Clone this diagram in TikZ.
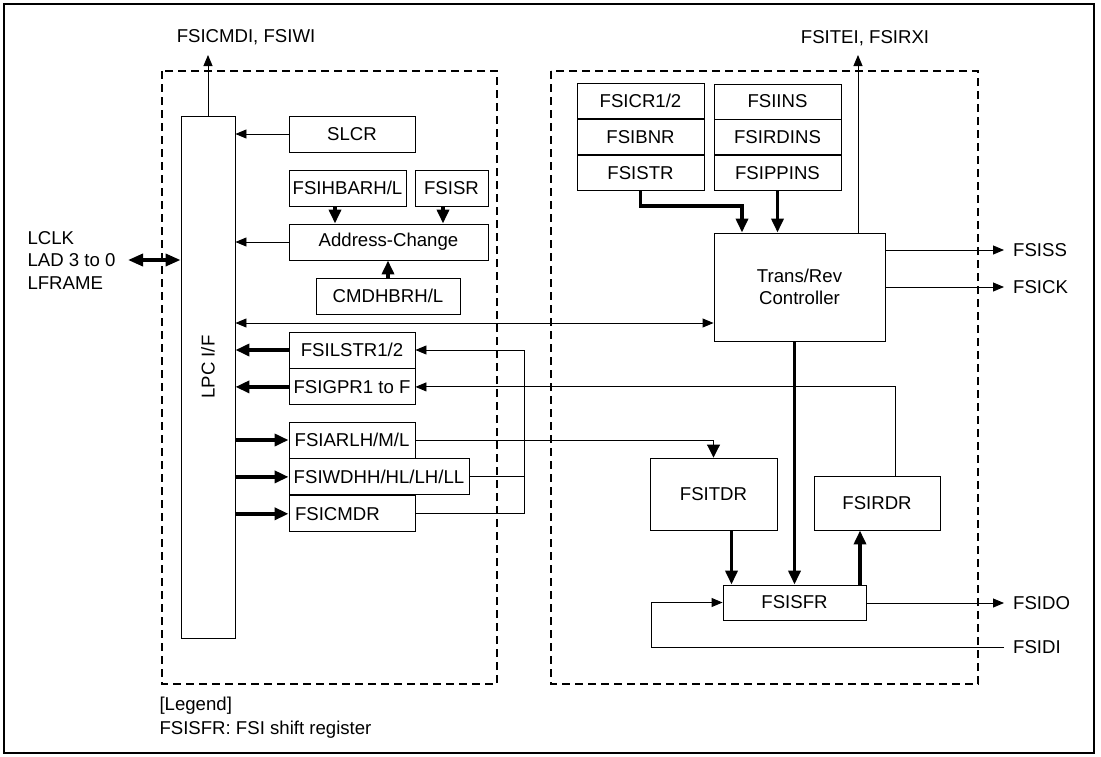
\documentclass[tikz,border=0pt]{standalone}
\usepackage{fontspec}
\setmainfont{Liberation Sans}
\usetikzlibrary{arrows.meta,positioning}

\begin{document}
\begin{tikzpicture}[
  x=1pt, y=-1pt,
  every node/.style={font=\fontsize{18.6}{22.5}\selectfont},
  reg/.style={draw, line width=0.9pt, minimum height=36pt, inner sep=0pt, align=center},
  regrow/.style={reg, minimum width=127pt, minimum height=35pt},
  sig/.style={inner xsep=9pt, inner ysep=0pt, anchor=west},
  wire/.style={line width=0.9pt},
  arr/.style={wire, -{Triangle[length=11pt, width=9pt]}},
  warr/.style={wire, -{Triangle[length=13pt, width=13pt]}},
  biarr/.style={wire, {Triangle[length=11pt, width=9pt]}-{Triangle[length=11pt, width=9pt]}},
  tarr/.style={line width=3.5pt, -{Triangle[length=14pt, width=12pt]}},
  tbiarr/.style={line width=3.5pt, {Triangle[length=15pt, width=12pt]}-{Triangle[length=15pt, width=12pt]}},
  zone/.style={draw, line width=2pt, dash pattern=on 8pt off 5pt},
  node distance=0pt
]
\useasboundingbox (0,0) rectangle (1101,756);
\draw[line width=2pt] (4,4) rectangle (1094,753);
\draw[zone] (162,71) rectangle (497,684);
\draw[zone] (551,71) rectangle (978,684);

\node[reg, minimum width=54pt, minimum height=522pt] (lpc) at (208,377) {};
\node[rotate=90] (lpctxt) at (208,367) {LPC I/F};
\node[reg, minimum width=126pt] (slcr) at (352,134) {SLCR};
\node[reg, minimum width=117pt] (hbar) at (347.5,188) {FSIHBARH/L};
\node[reg, minimum width=73pt] (isr) at (451.5,188) {FSISR};
\node[reg, minimum width=199pt] (addr) at (388.5,242) {Address-Change};
\node[reg, minimum width=144pt] (cmdh) at (388,296) {CMDHBRH/L};
\node[reg, minimum width=126pt] (lstr) at (352,350) {FSILSTR1/2};
\node[reg, minimum width=126pt, below=of lstr] (gpr) {FSIGPR1 to F};
\node[reg, minimum width=126pt] (arlh) at (352,440) {FSIARLH/M/L};
\node[reg, minimum width=180pt, anchor=north west] (wdhh) at (arlh.south west) {FSIWDHH/HL/LH/LL};
\node[reg, minimum width=126pt, text width=114pt, align=left, anchor=north west] (cmdr) at (wdhh.south west) {FSICMDR};

\node[regrow] (cr) at (640.5,101) {FSICR1/2};
\node[regrow, below=of cr] (bnr) {FSIBNR};
\node[regrow, below=of bnr] (istr) {FSISTR};
\node[regrow] (ins) at (777.5,101.5) {FSIINS};
\node[regrow, below=of ins] (rdins) {FSIRDINS};
\node[regrow, below=of rdins] (ppins) {FSIPPINS};
\node[reg, minimum width=171pt, minimum height=108pt] (ctrl) at (799.5,287) {Trans/Rev\\Controller};
\node[reg, minimum width=127pt, minimum height=72pt] (tdr) at (713.5,494) {FSITDR};
\node[reg, minimum width=126pt, minimum height=54pt] (rdr) at (877,503) {FSIRDR};
\node[reg, minimum width=143pt, minimum height=35pt] (sfr) at (794.5,602.5) {FSISFR};

\node (cmdi) at (246,37) {FSICMDI, FSIWI};
\node (tei) at (865,38) {FSITEI, FSIRXI};
\node[anchor=west, align=left] (lclk) at (24,260) {LCLK\\LAD 3 to 0\\LFRAME};
\node[sig] (iss) at (1004,250) {FSISS};
\node[sig] (ick) at (1004,287) {FSICK};
\node[sig] (ido) at (1004,603) {FSIDO};
\node[sig] (idi) at (1004,647) {FSIDI};
\node[anchor=west] (legend) at (156,706) {[Legend]};
\node[anchor=west] (legendtxt) at (156,730) {FSISFR: FSI shift register};

\coordinate (cmdiend) at (208,55);
\coordinate (teiend) at (858,55);
\coordinate (lpcext) at (128,260);
\coordinate (busrt) at ([yshift=-36pt]ctrl.west);
\coordinate (bus) at (524,350);
\coordinate (strbend) at (742,206);
\coordinate (dibend) at (651,647);

\draw[arr] (lpc.north) -- (cmdiend);
\draw[arr] (ctrl.north -| teiend) -- (teiend);
\draw[tbiarr] (lpcext) -- (lpcext -| lpc.west);
\draw[arr] (slcr.west) -- (slcr.west -| lpc.east);
\draw[tarr] ([xshift=-12.5pt]hbar.south) -- ([xshift=-12.5pt]hbar.south |- addr.north);
\draw[tarr] ([xshift=-8.5pt]isr.south) -- ([xshift=-8.5pt]isr.south |- addr.north);
\draw[arr] (addr.west) -- (addr.west -| lpc.east);
\draw[tarr] (cmdh.north) -- (cmdh.north |- addr.south);
\draw[biarr] (busrt -| lpc.east) -- (busrt);
\draw[tarr] (lstr.west) -- (lstr.west -| lpc.east);
\draw[tarr] (gpr.west) -- (gpr.west -| lpc.east);
\draw[tarr] (arlh.west -| lpc.east) -- (arlh.west);
\draw[tarr] (wdhh.west -| lpc.east) -- (wdhh.west);
\draw[tarr] (cmdr.west -| lpc.east) -- (cmdr.west);
\draw[warr] (arlh.east) -| (tdr.north);
\draw[arr] (cmdr.east) -| (bus) -- (lstr.east);
\draw[wire] (wdhh.east) -- (wdhh.east -| bus);
\draw[arr] ([xshift=18pt]rdr.north) |- (gpr.east);
\draw[tarr] (istr.south) |- (strbend) -- (strbend |- ctrl.north);
\draw[tarr] (ppins.south) -- (ppins.south |- ctrl.north);
\draw[arr] (ctrl.east |- iss) -- (iss.west);
\draw[arr] (ctrl.east |- ick) -- (ick.west);
\draw[tarr] (sfr.north |- ctrl.south) -- (sfr.north);
\draw[tarr] ([xshift=18pt]tdr.south) -- ([xshift=18pt]tdr.south |- sfr.north);
\draw[tarr] ([xshift=-17pt]rdr.south |- sfr.north) -- ([xshift=-17pt]rdr.south);
\draw[arr] (sfr.east |- ido) -- (ido.west);
\draw[arr] (idi.west) -- (dibend) |- (sfr.west);
\end{tikzpicture}
\end{document}
